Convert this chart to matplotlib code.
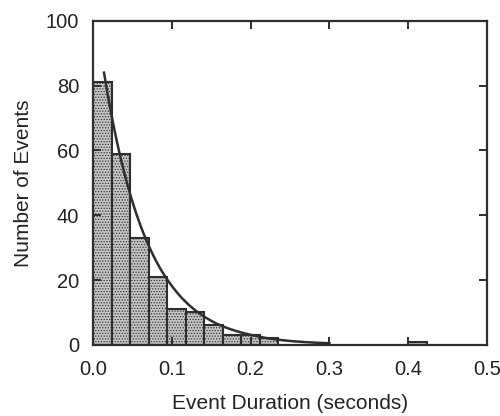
import numpy as np
import matplotlib.pyplot as plt

plt.rcParams['font.family'] = ['Liberation Sans', 'DejaVu Sans']
plt.rcParams['hatch.color'] = '#e6e6e6'
plt.rcParams['hatch.linewidth'] = 0.6

# Histogram data (bin width 0.4/17 s)
bin_width = 0.4 / 17
counts = [81, 59, 33, 21, 11, 10, 6, 3, 3, 2, 0, 0, 0, 0, 0, 0, 0, 1]
bin_left = [i * bin_width for i in range(len(counts))]

# Fitted exponential curve
fit_x = [0.014, 0.02, 0.03, 0.04, 0.05, 0.06, 0.07, 0.08, 0.09, 0.10, 0.12,
         0.14, 0.16, 0.18, 0.20, 0.22, 0.25, 0.28, 0.30]
fit_y = [84, 75.4, 63.1, 52.8, 44.2, 37.0, 31.0, 25.9, 21.7, 18.2, 12.7,
         8.9, 6.2, 4.4, 3.1, 2.1, 1.2, 0.7, 0.5]

xticks = [0.0, 0.1, 0.2, 0.3, 0.4, 0.5]
yticks = [0, 20, 40, 60, 80, 100]

fig = plt.figure(figsize=(5, 4.16), dpi=100)
ax = fig.add_axes([0.186, 0.171, 0.788, 0.779])

dark = '#2e2e2e'
heights = np.array(counts)
mask = heights > 0
ax.bar(np.array(bin_left)[mask], heights[mask], width=bin_width, align='edge',
       facecolor='#c6c6c6', edgecolor=dark, linewidth=1.5, hatch='......')

# smooth the read points for drawing
xs = np.array(fit_x)
ys = np.array(fit_y)
xx = np.linspace(xs[0], xs[-1], 300)
yy = np.exp(np.interp(xx, xs, np.log(ys)))
ax.plot(xx, yy, color=dark, linewidth=1.8)

ax.set_xlim(0, 0.5)
ax.set_ylim(0, 100)
ax.set_xticks(xticks)
ax.set_xticklabels(['0.0', '0.1', '0.2', '0.3', '0.4', '0.5'])
ax.set_yticks(yticks)
ax.tick_params(direction='in', length=6, width=1.4, color=dark,
               top=True, right=True, labelsize=14.5, colors='#222222')
ax.tick_params(axis='x', pad=11)
ax.tick_params(axis='y', pad=10)
for s in ax.spines.values():
    s.set_linewidth(1.6)
    s.set_color(dark)

ax.set_xlabel('Event Duration (seconds)', fontsize=15, color='#222222', labelpad=11)
ax.set_ylabel('Number of Events', fontsize=15, color='#222222', labelpad=9)

fig.savefig('out.png', dpi=100)
